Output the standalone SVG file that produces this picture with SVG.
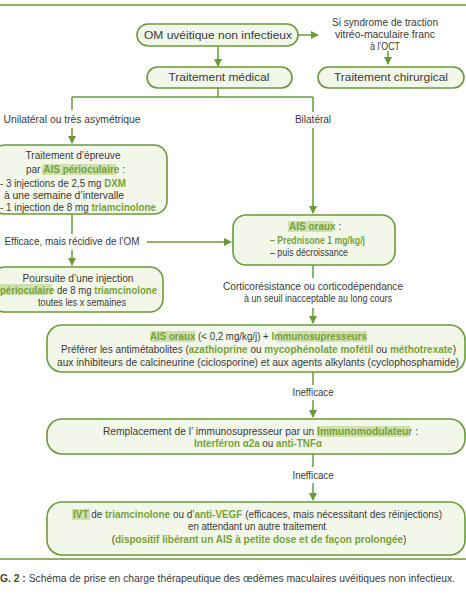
<svg xmlns="http://www.w3.org/2000/svg" width="466" height="600" viewBox="0 0 466 600">
<defs>
<marker id="ah" viewBox="0 0 8 8" refX="7" refY="4" markerWidth="8" markerHeight="8" markerUnits="userSpaceOnUse" orient="auto">
<path d="M0,0 L8,4 L0,8 Z" fill="#6a9a3a"/>
</marker>
<style>
.box{fill:#f2f7ea;stroke:#6a9a3a;stroke-width:1.6}
.ln{fill:none;stroke:#6a9a3a;stroke-width:1.5}
.ar{fill:none;stroke:#6a9a3a;stroke-width:1.5;marker-end:url(#ah)}
.rule{stroke:#6a9a3a;stroke-width:1.5}
text{font-family:"Liberation Sans",Arial,sans-serif;font-size:10px;fill:#3a3a3a}
.c{text-anchor:middle}
.t{font-size:11px}
.g{fill:#78a236;font-weight:bold}
.hl{fill:#cfe0ae}
.cap{font-size:10px;fill:#3a3a3a}
</style>
</defs>
<rect width="466" height="600" fill="#ffffff"/>
<line class="rule" x1="0" y1="5" x2="466" y2="5"/>
<line class="rule" x1="0" y1="559" x2="466" y2="559"/>

<g id="connectors">
<path class="ar" d="M298,35 H318"/>
<path class="ar" d="M388,51 V64"/>
<path class="ar" d="M218,46 V66"/>
<path class="ln" d="M218,88 V97 M72,97 H313 M72,97 V110 M313,97 V112"/>
<path class="ar" d="M72,128 V143"/>
<path class="ar" d="M313,128 V213"/>
<path class="ln" d="M72,214 V234"/>
<path class="ar" d="M72,250 V265"/>
<path class="ar" d="M147,242 H231"/>
<path class="ln" d="M313,265 V278"/>
<path class="ar" d="M313,308 V323"/>
<path class="ln" d="M313,372 V385"/>
<path class="ar" d="M313,400 V417"/>
<path class="ln" d="M313,454 V467"/>
<path class="ar" d="M313,483 V500"/>
</g>

<g id="n-om">
<rect class="box" x="137" y="24" width="161" height="22" rx="11"/>
<text class="c t" x="218" y="39" textLength="148" lengthAdjust="spacingAndGlyphs">OM uvéitique non infectieux</text>
</g>

<g id="l-traction">
<text class="c" x="385" y="26" textLength="106" lengthAdjust="spacingAndGlyphs">Si syndrome de traction</text>
<text class="c" x="385" y="38" textLength="100" lengthAdjust="spacingAndGlyphs">vitréo-maculaire franc</text>
<text class="c" x="385" y="50" textLength="30" lengthAdjust="spacingAndGlyphs">à l’OCT</text>
</g>

<g id="n-medical">
<rect class="box" x="147" y="67" width="145" height="21" rx="10.5"/>
<text class="c t" x="219" y="81" textLength="101" lengthAdjust="spacingAndGlyphs">Traitement médical</text>
</g>

<g id="n-chir">
<rect class="box" x="318" y="67" width="146" height="21" rx="10.5"/>
<text class="c t" x="391" y="81" textLength="114" lengthAdjust="spacingAndGlyphs">Traitement chirurgical</text>
</g>

<g id="l-unilat">
<text class="c" x="72" y="123" textLength="137" lengthAdjust="spacingAndGlyphs">Unilatéral ou très asymétrique</text>
</g>
<g id="l-bilat">
<text class="c" x="313" y="123">Bilatéral</text>
</g>

<g id="n-epreuve">
<rect class="box" x="-8" y="145" width="175" height="69" rx="13"/>
<rect class="hl" x="42" y="164" width="74" height="11"/>
<text class="c" x="73" y="159" textLength="95" lengthAdjust="spacingAndGlyphs">Traitement d’épreuve</text>
<text x="26" y="173">par <tspan class="g">AIS périoculaire</tspan> :</text>
<text x="0" y="187" textLength="126" lengthAdjust="spacingAndGlyphs">- 3 injections de 2,5 mg <tspan class="g">DXM</tspan></text>
<text x="4" y="199" textLength="120" lengthAdjust="spacingAndGlyphs">à une semaine d’intervalle</text>
<text x="0" y="211" textLength="156" lengthAdjust="spacingAndGlyphs">- 1 injection de 8 mg <tspan class="g">triamcinolone</tspan></text>
</g>

<g id="l-efficace">
<text class="c" x="72" y="245" textLength="135" lengthAdjust="spacingAndGlyphs">Efficace, mais récidive de l’OM</text>
</g>

<g id="n-poursuite">
<rect class="box" x="-8" y="267" width="171" height="45" rx="13"/>
<rect class="hl" x="0" y="284" width="52" height="11"/>
<text class="c" x="78" y="282" textLength="111" lengthAdjust="spacingAndGlyphs">Poursuite d’une injection</text>
<text x="0" y="294" textLength="157" lengthAdjust="spacingAndGlyphs"><tspan class="g">périoculaire</tspan> de 8 mg <tspan class="g">triamcinolone</tspan></text>
<text class="c" x="82" y="306" textLength="88" lengthAdjust="spacingAndGlyphs">toutes les x semaines</text>
</g>

<g id="n-aisoraux">
<rect class="box" x="233" y="215" width="162" height="50" rx="13"/>
<rect class="hl" x="288" y="221" width="45" height="11"/>
<text x="289" y="230"><tspan class="g">AIS oraux</tspan> :</text>
<text x="270" y="244" textLength="95" lengthAdjust="spacingAndGlyphs"><tspan class="g">– Prednisone 1 mg/kg/j</tspan></text>
<text x="270" y="256" textLength="78" lengthAdjust="spacingAndGlyphs">– puis décroissance</text>
</g>

<g id="l-cortico">
<text class="c" x="313" y="290" textLength="180" lengthAdjust="spacingAndGlyphs">Corticorésistance ou corticodépendance</text>
<text class="c" x="318" y="302" textLength="148" lengthAdjust="spacingAndGlyphs">à un seuil inacceptable au long cours</text>
</g>

<g id="n-immunosup">
<rect class="box" x="47" y="325" width="418" height="47" rx="15"/>
<rect class="hl" x="150" y="331" width="45" height="11"/>
<rect class="hl" x="277" y="331" width="90" height="11"/>
<text x="150" y="340" textLength="217" lengthAdjust="spacingAndGlyphs"><tspan class="g">AIS oraux</tspan> (&lt; 0,2 mg/kg/j) + <tspan class="g">Immunosupresseurs</tspan></text>
<text x="61" y="353" textLength="395" lengthAdjust="spacingAndGlyphs">Préférer les antimétabolites (<tspan class="g">azathioprine</tspan> ou <tspan class="g">mycophénolate mofétil</tspan> ou <tspan class="g">méthotrexate</tspan>)</text>
<text x="57" y="366" textLength="402" lengthAdjust="spacingAndGlyphs">aux inhibiteurs de calcineurine (ciclosporine) et aux agents alkylants (cyclophosphamide)</text>
</g>

<g id="l-ineff1">
<text class="c" x="313" y="396" textLength="41" lengthAdjust="spacingAndGlyphs">Inefficace</text>
</g>

<g id="n-immunomod">
<rect class="box" x="47" y="419" width="418" height="35" rx="15"/>
<rect class="hl" x="317" y="426" width="93" height="11"/>
<text x="103" y="435" textLength="315" lengthAdjust="spacingAndGlyphs">Remplacement de l’ immunosupresseur par un <tspan class="g">Immunomodulateur</tspan> :</text>
<text x="194" y="447" textLength="128" lengthAdjust="spacingAndGlyphs"><tspan class="g">Interféron α2a</tspan> ou <tspan class="g">anti-TNFα</tspan></text>
</g>

<g id="l-ineff2">
<text class="c" x="313" y="479" textLength="41" lengthAdjust="spacingAndGlyphs">Inefficace</text>
</g>

<g id="n-ivt">
<rect class="box" x="47" y="502" width="418" height="53" rx="15"/>
<rect class="hl" x="72" y="509" width="18" height="11"/>
<text x="73" y="517.5" textLength="369" lengthAdjust="spacingAndGlyphs"><tspan class="g">IVT</tspan> de <tspan class="g">triamcinolone</tspan> ou d’<tspan class="g">anti-VEGF</tspan> (efficaces, mais nécessitant des réinjections)</text>
<text class="c" x="257" y="530" font-size="9.6" textLength="138" lengthAdjust="spacingAndGlyphs">en attendant un autre traitement</text>
<text class="c" x="259" y="543" font-size="9.2">(<tspan class="g">dispositif libérant un AIS à petite dose et de façon prolongée</tspan>)</text>
</g>

<g id="caption">
<text class="cap" x="0" y="582" textLength="455" lengthAdjust="spacingAndGlyphs"><tspan font-weight="bold" fill="#3d4f2a">G. 2 :</tspan> Schéma de prise en charge thérapeutique des œdèmes maculaires uvéitiques non infectieux.</text>
</g>
</svg>
